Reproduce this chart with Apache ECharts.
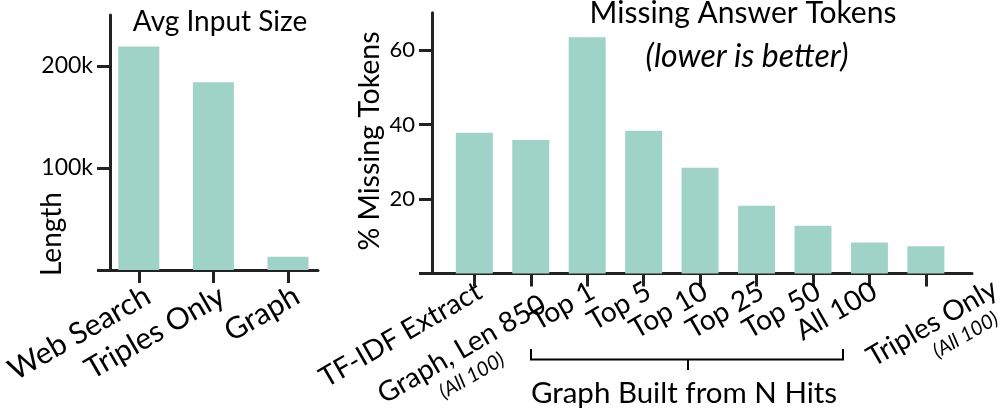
<!DOCTYPE html>
<html>
<head>
<meta charset="utf-8">
<script src="https://cdn.jsdelivr.net/npm/echarts@6/dist/echarts.min.js"></script>
<style>
html,body{margin:0;padding:0;background:#fff;}
#c{width:1004px;height:408px;}
</style>
</head>
<body>
<div id="c"></div>
<script>
// ---- data ----
const leftCategories = ['Web Search', 'Triples Only', 'Graph'];
const leftValues = [219000, 184000, 13000];
const leftTickValues = [0, 100000, 200000];
const leftLabelValues = [100000, 200000];

const rightCategories = ['TF-IDF Extract', 'Graph, Len 850', 'Top 1', 'Top 5', 'Top 10', 'Top 25', 'Top 50', 'All 100', 'Triples Only'];
const rightSubLabels = ['', '(All 100)', '', '', '', '', '', '', '(All 100)'];
const rightValues = [37.8, 35.8, 63.4, 38.3, 28.4, 18.2, 12.8, 8.3, 7.3];
const rightTickValues = [0, 20, 40, 60];
const rightLabelValues = [20, 40, 60];

// ---- style ----
const FONT = 'Lato';
const BAR = '#9fd3c7';
const AX = '#222';
const chart = echarts.init(document.getElementById('c'), null, {renderer: 'canvas'});

function axisLineX() {
  return {type: 'value', min: 0, max: 1, axisLine: {show: true, onZero: false, lineStyle: {color: AX, width: 3}},
    axisTick: {show: false}, axisLabel: {show: false}, splitLine: {show: false}};
}

const leftCatData = leftCategories.map(c => ({value: c, textStyle: {padding: [36, 0, 0, 0]}}));
const rightCatData = rightCategories.map((c, i) => {
  const item = {value: c, textStyle: {padding: [20, 0, 0, 0]}};
  if (i === 1) item.textStyle = {padding: [78, 0, 0, 0]};
  if (i === rightCategories.length - 1) item.textStyle = {align: 'center', padding: [106, 32, 0, 0]};
  return item;
});

const gridBase = {outerBoundsMode: 'none', containLabel: false};
const mainTok = size => ({fontSize: size, fontFamily: FONT, color: '#000'});

const option = {
  animation: false,
  textStyle: {fontFamily: FONT},
  grid: [
    Object.assign({left: 110, right: 686, top: 15, bottom: 138}, gridBase),        // left axes
    Object.assign({left: 101.5, right: 678.7, top: 15, bottom: 138}, gridBase),    // left bars
    Object.assign({left: 432, right: 32, top: 12.7, bottom: 134.5}, gridBase),     // right axes
    Object.assign({left: 446.1, right: 49.9, top: 12.7, bottom: 134.5}, gridBase)  // right bars
  ],
  xAxis: [
    Object.assign(axisLineX(), {gridIndex: 0}),
    {type: 'category', gridIndex: 1, data: leftCatData, axisLine: {show: false},
      axisTick: {show: true, alignWithLabel: true, length: 13, lineStyle: {color: AX, width: 3}},
      axisLabel: {rotate: 30, margin: 8, fontSize: 30, color: '#000', fontFamily: FONT, interval: 0, hideOverlap: false,
        formatter: v => '{t|' + v + '}',
        rich: {t: mainTok(30)}}},
    Object.assign(axisLineX(), {gridIndex: 2}),
    {type: 'category', gridIndex: 3, data: rightCatData, axisLine: {show: false},
      axisTick: {show: true, alignWithLabel: true, length: 13, lineStyle: {color: AX, width: 3}},
      axisLabel: {rotate: 30, margin: 7, fontSize: 28, color: '#000', fontFamily: FONT, interval: 0, hideOverlap: false,
        formatter: function (v, idx) {
          const s = rightSubLabels[idx];
          return '{t|' + v + '}' + (s ? '\n{s' + idx + '|' + s + '}' : '');
        },
        rich: {
          t: mainTok(28),
          s1: {fontSize: 20, fontStyle: 'italic', fontFamily: FONT, color: '#000', align: 'right', padding: [0, 63, 0, 0], lineHeight: 28},
          s8: {fontSize: 20, fontStyle: 'italic', fontFamily: FONT, color: '#000', align: 'right', padding: [0, 14, 0, 0], lineHeight: 26}
        }}}
  ],
  yAxis: [
    {type: 'value', gridIndex: 0, min: 0, max: 250000,
      axisLine: {show: true, lineStyle: {color: AX, width: 3}},
      axisTick: {show: true, length: 13, lineStyle: {color: AX, width: 3}, customValues: leftTickValues},
      axisLabel: {show: true, margin: 17, fontSize: 23, color: '#000', fontFamily: FONT, customValues: leftLabelValues,
        formatter: v => (v / 1000) + 'k'},
      splitLine: {show: false}},
    {type: 'value', gridIndex: 1, min: 0, max: 250000, show: false},
    {type: 'value', gridIndex: 2, min: 0, max: 70,
      axisLine: {show: true, lineStyle: {color: AX, width: 3}},
      axisTick: {show: true, length: 13, lineStyle: {color: AX, width: 3}, customValues: rightTickValues},
      axisLabel: {show: true, margin: 17, fontSize: 22, color: '#000', fontFamily: FONT, customValues: rightLabelValues},
      splitLine: {show: false}},
    {type: 'value', gridIndex: 3, min: 0, max: 70, show: false}
  ],
  series: [
    {type: 'bar', xAxisIndex: 1, yAxisIndex: 1, data: leftValues, barWidth: 41, itemStyle: {color: BAR}, z: 1},
    {type: 'bar', xAxisIndex: 3, yAxisIndex: 3, data: rightValues, barWidth: 37, itemStyle: {color: BAR}, z: 1}
  ],
  graphic: [
    {type: 'text', x: 220, y: 22, style: {text: 'Avg Input Size', font: '28px Lato', fill: '#000', align: 'center', verticalAlign: 'middle'}},
    {type: 'text', x: 743, y: 13, style: {text: 'Missing Answer Tokens', font: '30px Lato', fill: '#000', align: 'center', verticalAlign: 'middle'}},
    {type: 'text', x: 747, y: 57, style: {text: '(lower is better)', font: 'italic 32px Lato', fill: '#000', align: 'center', verticalAlign: 'middle'}},
    {type: 'text', x: 52, y: 234, rotation: Math.PI / 2, style: {text: 'Length', font: '28px Lato', fill: '#000', align: 'center', verticalAlign: 'middle'}},
    {type: 'text', x: 370, y: 141, rotation: Math.PI / 2, style: {text: '% Missing Tokens', font: '28.5px Lato', fill: '#000', align: 'center', verticalAlign: 'middle'}},
    {type: 'text', x: 684, y: 393, style: {text: 'Graph Built from N Hits', font: '29.5px Lato', fill: '#000', align: 'center', verticalAlign: 'middle'}},
    {type: 'polyline', shape: {points: [[531, 349], [531, 359.5], [843, 359.5], [843, 349]]}, style: {stroke: '#000', lineWidth: 2, fill: null}},
    {type: 'line', shape: {x1: 688, y1: 359.5, x2: 688, y2: 370}, style: {stroke: '#000', lineWidth: 2}}
  ]
};
chart.setOption(option);
</script>
</body>
</html>
